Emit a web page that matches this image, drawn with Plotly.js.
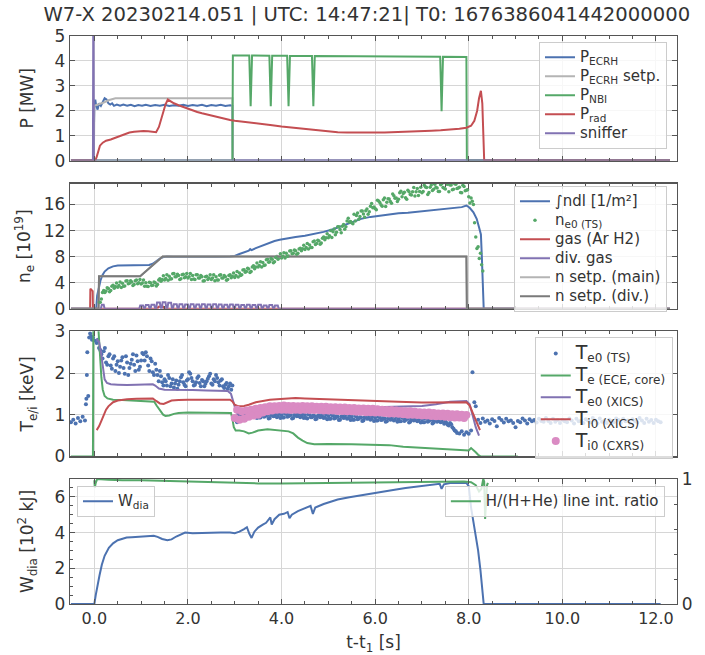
<!DOCTYPE html>
<html><head><meta charset="utf-8">
<script src="https://cdn.plot.ly/plotly-3.0.1.min.js"></script>
<style>html,body{margin:0;padding:0;background:#fff;}#plot{width:705px;height:655px;}</style>
</head><body><div id="plot"></div>
<script>
// ---------- Panel 1: powers [MW] ----------
const ecrh_t = [-0.5,-0.02,-0.01,0.0,0.02,0.04,0.07,0.1,0.14,0.18,0.22,0.26,0.3,0.34,0.38,0.42,0.48,0.55,0.62,0.7,0.78,0.86,0.94,1.02,1.1,1.2,1.3,1.4,1.5,1.6,1.7,1.8,1.9,2.0,2.1,2.2,2.3,2.4,2.5,2.6,2.7,2.8,2.9,2.95,2.96,12.3];
const ecrh   = [0,0,1.2,2.15,2.45,2.2,2.05,2.3,2.2,2.35,2.5,2.45,2.3,2.25,2.3,2.2,2.25,2.2,2.25,2.2,2.24,2.18,2.23,2.2,2.24,2.19,2.23,2.2,2.24,2.19,2.22,2.2,2.24,2.19,2.23,2.2,2.24,2.18,2.23,2.2,2.24,2.19,2.22,2.2,0,0];
const ecrh_set_t = [-0.5,-0.01,0.0,0.1,0.2,0.3,0.4,0.45,2.95,2.96,12.3];
const ecrh_set   = [0,0,2.2,2.25,2.33,2.42,2.48,2.5,2.5,0,0];
const nbi_t = [-0.5,2.95,2.96,3.31,3.34,3.37,3.74,3.77,3.80,4.12,4.15,4.18,4.65,4.68,4.71,5.5,6.5,7.39,7.42,7.45,7.95,7.96,12.3];
const nbi   = [0,0,4.22,4.22,2.18,4.22,4.21,2.18,4.21,4.21,2.18,4.2,4.2,2.18,4.2,4.19,4.18,4.17,1.98,4.17,4.16,0,0];
const prad_t = [-0.5,0.02,0.05,0.08,0.12,0.18,0.25,0.35,0.45,0.55,0.65,0.75,0.85,0.95,1.05,1.15,1.25,1.32,1.38,1.45,1.52,1.57,1.62,1.7,1.8,1.9,2.0,2.1,2.2,2.3,2.4,2.5,2.6,2.7,2.8,2.9,3.0,3.2,3.4,3.6,3.8,4.0,4.2,4.4,4.6,4.8,5.0,5.2,5.4,5.6,5.8,6.0,6.2,6.4,6.6,6.8,7.0,7.2,7.4,7.6,7.8,7.95,8.05,8.12,8.18,8.22,8.26,8.29,8.31,8.33,8.36,12.3];
const prad   = [0,0,0.15,0.4,0.6,0.72,0.8,0.85,0.92,1.02,1.08,1.13,1.16,1.18,1.19,1.18,1.16,1.14,1.35,1.8,2.25,2.45,2.38,2.3,2.22,2.15,2.08,2.0,1.95,1.9,1.85,1.8,1.75,1.71,1.67,1.63,1.6,1.56,1.53,1.47,1.42,1.37,1.33,1.28,1.24,1.2,1.17,1.14,1.13,1.12,1.12,1.13,1.13,1.14,1.14,1.16,1.18,1.2,1.22,1.24,1.28,1.32,1.4,1.6,2.0,2.5,2.8,2.3,1.0,0.02,0,0];
const sniffer_t = [-0.5,-0.03,-0.02,-0.01,12.3];
const sniffer   = [0,0,8,0,0];

// ---------- Panel 2: density [1e19] ----------
const ndl_t = [-0.5,0.04,0.06,0.09,0.13,0.17,0.22,0.3,0.4,0.5,0.7,0.9,1.1,1.17,1.25,1.32,1.4,1.46,1.55,1.7,2.0,2.3,2.6,2.9,3.0,3.1,3.2,3.3,3.33,3.36,3.45,3.55,3.65,3.75,3.85,3.96,4.1,4.3,4.5,4.73,4.9,5.1,5.3,5.5,5.7,5.9,6.1,6.3,6.5,6.7,6.9,7.1,7.3,7.5,7.7,7.85,7.95,8.02,8.1,8.17,8.22,8.26,8.28,8.3,8.32,12.3];
const ndl   = [0,0,2.0,3.2,4.3,5.1,5.7,6.2,6.5,6.65,6.7,6.7,6.7,6.72,6.9,7.3,7.7,7.9,8.0,7.98,7.95,7.95,7.97,8.0,8.1,8.4,8.7,8.9,9.15,9.0,9.3,9.6,9.9,10.2,10.4,10.6,10.8,11.0,11.2,11.5,11.8,12.2,12.7,13.2,13.8,14.1,14.3,14.5,14.65,14.75,14.9,15.05,15.15,15.25,15.4,15.6,15.85,15.5,14.8,13.8,12.5,11.4,8.0,3.0,0,0];
const ne_ts_t = [0.10,0.15,0.20,0.25,0.30,0.35,0.40,0.45,0.50,0.55,0.60,0.65,0.70,0.75,0.80,0.85,0.90,0.95,1.00,1.05,1.10,1.15,1.20,1.25,1.30,1.35,1.40,1.45,1.50,1.55,1.60,1.65,1.70,1.75,1.80,1.85,1.90,1.95,2.00,2.05,2.10,2.15,2.20,2.25,2.30,2.35,2.40,2.45,2.50,2.55,2.60,2.65,2.70,2.75,2.80,2.85,2.90,2.95,3.00,3.05,3.10,3.15,3.20,3.25,3.30,3.35,3.40,3.45,3.50,3.55,3.60,3.65,3.70,3.75,3.80,3.85,3.90,3.95,4.00,4.05,4.10,4.15,4.20,4.25,4.30,4.35,4.40,4.45,4.50,4.55,4.60,4.65,4.70,4.75,4.80,4.85,4.90,4.95,5.00,5.05,5.10,5.15,5.20,5.25,5.30,5.35,5.40,5.45,5.50,5.55,5.60,5.65,5.70,5.75,5.80,5.85,5.90,5.95,6.00,6.05,6.10,6.15,6.20,6.25,6.30,6.35,6.40,6.45,6.50,6.55,6.60,6.65,6.70,6.75,6.80,6.85,6.90,6.95,7.00,7.05,7.10,7.15,7.20,7.25,7.30,7.35,7.40,7.45,7.50,7.55,7.60,7.65,7.70,7.75,7.80,7.85,7.90,7.95,8.00,8.05,8.10,8.15,8.20,8.25,8.30];
const ne_ts   = [1.0,1.5,2.8,2.7,3.1,2.8,3.6,3.4,3.3,4.1,3.9,3.5,4.3,3.9,4.1,3.7,4.4,4.0,3.8,4.4,4.0,3.4,4.0,3.6,4.0,3.7,4.6,4.5,4.4,5.2,5.0,4.6,5.4,4.9,5.1,4.6,5.3,4.9,4.7,5.4,5.1,4.5,5.2,4.7,4.9,4.3,5.0,4.7,4.5,5.2,4.9,4.4,5.2,4.7,4.9,4.5,5.2,5.0,4.8,5.7,5.5,5.2,6.0,5.7,6.1,5.7,6.6,6.4,6.4,7.2,7.1,6.7,7.6,7.2,7.6,7.2,8.0,7.9,7.8,8.6,8.5,8.1,8.9,8.5,8.9,8.5,9.3,9.2,9.1,10.0,9.8,9.4,10.4,10.0,10.4,10.1,11.0,10.9,10.9,12.0,11.8,11.35,12.6,12.15,12.65,12.2,13.45,13.3,13.2,14.5,14.3,13.75,15.0,14.55,15.05,14.5,15.75,15.5,15.4,16.65,16.3,15.75,17.0,16.35,16.85,16.2,17.35,17.0,16.8,18.05,17.7,17.05,18.2,17.55,17.95,17.3,18.45,18.0,17.8,18.95,18.6,17.85,19.0,18.35,18.65,18.0,19.05,18.6,18.4,19.1,19.0,18.25,19.2,18.45,18.65,17.8,18.75,18.2,17.2,17.0,16.0,11.0,9.5,8.5,5.8];
const ne_ts_b_t = [0.125,0.175,0.225,0.275,0.325,0.375,0.425,0.475,0.525,0.575,0.625,0.675,0.725,0.775,0.825,0.875,0.925,0.975,1.025,1.075,1.125,1.175,1.225,1.275,1.325,1.375,1.425,1.475,1.525,1.575,1.625,1.675,1.725,1.775,1.825,1.875,1.925,1.975,2.025,2.075,2.125,2.175,2.225,2.275,2.325,2.375,2.425,2.475,2.525,2.575,2.625,2.675,2.725,2.775,2.825,2.875,2.925,2.975,3.025,3.075,3.125,3.175,3.225,3.275,3.325,3.375,3.425,3.475,3.525,3.575,3.625,3.675,3.725,3.775,3.825,3.875,3.925,3.975,4.025,4.075,4.125,4.175,4.225,4.275,4.325,4.375,4.425,4.475,4.525,4.575,4.625,4.675,4.725,4.775,4.825,4.875,4.925,4.975,5.025,5.075,5.125,5.175,5.225,5.275,5.325,5.375,5.425,5.475,5.525,5.575,5.625,5.675,5.725,5.775,5.825,5.875,5.925,5.975,6.025,6.075,6.125,6.175,6.225,6.275,6.325,6.375,6.425,6.475,6.525,6.575,6.625,6.675,6.725,6.775,6.825,6.875,6.925,6.975,7.025,7.075,7.125,7.175,7.225,7.275,7.325,7.375,7.425,7.475,7.525,7.575,7.625,7.675,7.725,7.775,7.825,7.875,7.925,7.975,8.025,8.075,8.125,8.175,8.225,8.275];
const ne_ts_b   = [1.0,2.5,2.5,3.2,2.6,3.45,3.15,3.95,3.55,3.25,3.45,4.25,3.85,4.3,3.55,4.3,3.85,4.5,3.95,3.45,3.45,4.05,3.55,4.1,3.5,4.4,4.2,5.05,4.65,4.35,4.55,5.35,4.9,5.3,4.5,5.2,4.75,5.4,4.9,4.5,4.55,5.2,4.7,5.1,4.25,4.9,4.5,5.2,4.7,4.3,4.4,5.15,4.7,5.1,4.35,5.1,4.75,5.5,5.1,4.85,5.1,5.95,5.6,6.2,5.55,6.4,6.15,7.0,6.65,6.4,6.65,7.5,7.15,7.7,7.05,7.85,7.6,8.45,8.05,7.8,8.05,8.85,8.45,9.0,8.35,9.15,8.9,9.75,9.4,9.15,9.4,10.3,9.85,10.5,9.9,10.8,10.6,11.5,11.2,10.95,12.25,11.75,12.6,11.65,12.95,12.6,13.9,13.4,13.05,13.45,14.7,14.15,15.0,14.05,15.3,14.9,16.15,15.6,15.2,16.55,15.95,16.75,15.7,16.9,16.45,17.6,16.95,16.45,17.8,17.2,17.9,16.8,17.95,17.45,18.6,17.95,17.4,18.65,18.0,18.7,17.55,18.65,18.15,19.1,18.55,18.0,19.2,18.5,19.15,17.95,19.0,18.35,19.1,18.55,17.85,18.95,18.1,18.25,16.25,16.5,13.2,9.25,7.7,6.75];
const gas_t = [-0.5,-0.09,-0.085,-0.06,-0.05,-0.035,-0.03,1.35,1.37,1.47,1.49,12.3];
const gas   = [0,0,3.05,2.9,2.75,2.7,0,0,0.3,0.3,0,0];
const divgas_t = [-0.5,0.14,0.16,0.20,0.22,
  0.96,0.98,1.04,1.06, 1.08,1.10,1.16,1.18, 1.20,1.22,1.28,1.30, 1.32,1.34,1.40,1.42, 1.44,1.46,1.52,1.54,
  1.56,1.58,1.64,1.66, 1.68,1.70,1.76,1.78, 1.80,1.82,1.88,1.90, 1.92,1.94,2.00,2.02, 2.04,2.06,2.12,2.14,
  2.16,2.18,2.24,2.26, 2.28,2.30,2.36,2.38, 2.40,2.42,2.48,2.50, 2.52,2.54,2.60,2.62, 2.64,2.66,2.72,2.74,
  2.76,2.78,2.84,2.86, 2.88,2.90,2.96,2.98, 3.00,3.02,3.08,3.10, 3.12,3.14,3.20,3.22, 3.24,3.26,3.32,3.34,
  3.36,3.38,3.44,3.46, 3.48,3.50,3.56,3.58, 3.60,3.62,3.68,3.70, 3.72,3.74,3.80,3.82, 3.84,3.86,3.92,3.94, 12.3];
const divgas   = [0,0,0.6,0.6,0,
  0,0.5,0.5,0, 0,0.55,0.55,0, 0,0.6,0.6,0, 0,0.95,0.95,0, 0,1.0,1.0,0,
  0,0.9,0.9,0, 0,0.7,0.7,0, 0,0.7,0.7,0, 0,0.65,0.65,0, 0,0.7,0.7,0,
  0,0.65,0.65,0, 0,0.7,0.7,0, 0,0.65,0.65,0, 0,0.7,0.7,0, 0,0.65,0.65,0,
  0,0.6,0.6,0, 0,0.65,0.65,0, 0,0.6,0.6,0, 0,0.55,0.55,0, 0,0.6,0.6,0,
  0,0.55,0.55,0, 0,0.6,0.6,0, 0,0.5,0.5,0, 0,0.55,0.55,0, 0,0.5,0.5,0, 0];
const nset_t = [-0.5,0.09,0.1,0.98,1.46,7.95,7.96,12.3];
const nset   = [0,0,5,5,8,8,0,0];

// ---------- Panel 3: temperatures [keV] ----------
const te_ts_t = [-0.50,-0.45,-0.40,-0.35,-0.30,-0.25,-0.20,
  -0.18,-0.17,-0.16,-0.15,-0.13,-0.11,-0.09,-0.07,-0.05,-0.03,0.00,
  0.05,0.10,0.15,0.20,0.25,0.30,0.35,0.40,0.45,0.50,0.55,0.60,0.65,0.70,0.75,0.80,0.85,0.90,0.95,1.00,1.05,1.10,1.15,1.20,1.25,1.30,
  1.35,1.40,1.45,1.50,1.55,1.60,1.65,1.70,1.75,1.80,1.85,1.90,1.95,2.00,2.05,2.10,2.15,2.20,2.25,2.30,2.35,2.40,2.45,2.50,2.55,2.60,2.65,2.70,2.75,2.80,2.85,2.90,2.95,
  3.00,3.05,3.10,3.15,3.20,3.25,3.30,3.35,3.40,3.45,3.50,3.55,3.60,3.65,3.70,3.75,3.80,3.85,3.90,3.95,4.00,4.05,4.10,4.15,4.20,4.25,4.30,4.35,4.40,4.45,4.50,4.55,4.60,4.65,4.70,4.75,4.80,4.85,4.90,4.95,5.00,5.05,5.10,5.15,5.20,5.25,5.30,5.35,5.40,5.45,5.50,5.55,5.60,5.65,5.70,5.75,5.80,5.85,5.90,5.95,6.00,6.05,6.10,6.15,6.20,6.25,6.30,6.35,6.40,6.45,6.50,6.55,6.60,6.65,6.70,6.75,6.80,6.85,6.90,6.95,7.00,7.05,7.10,7.15,7.20,7.25,7.30,7.35,7.40,7.45,7.50,7.55,7.60,7.65,7.70,7.75,
  7.80,7.85,7.90,7.95,8.00,8.05, 8.08,8.12,8.15,
  8.20,8.25,8.30,8.35,8.40,8.45,8.50,8.55,8.60,8.65,8.70,8.75,8.80,8.85,8.90,8.95,9.00,9.05,9.10,9.15,9.20,9.25,9.30,9.35,9.40,9.45,9.50,9.55,9.60,9.65,9.70,9.75,9.80,9.85,9.90,9.95,10.00,10.05,10.10,10.15,10.20,10.25,10.30,10.35,10.40,10.45,10.50,10.55,10.60,10.65,10.70,10.75,10.80,10.85,10.90,10.95,11.00,11.05,11.10,11.15,11.20,11.25,11.30,11.35,11.40,11.45,11.50,11.55,11.60,11.65,11.70,11.75,11.80,11.85,11.90,11.95,12.00,12.05,12.10];
const te_ts = [0.82,0.88,0.79,0.92,0.84,0.95,0.86,
  1.25,1.38,1.95,2.50,1.45,2.85,2.95,2.88,2.80,2.85,2.78,
  2.72,2.60,2.45,2.52,2.25,2.40,2.18,2.35,2.05,2.28,2.15,2.38,1.98,2.25,2.12,2.32,2.20,2.42,2.08,2.30,2.45,2.50,2.18,2.35,2.02,2.22,
  1.95,2.05,1.78,1.85,1.70,1.88,1.75,1.65,1.82,1.72,1.90,1.78,1.68,1.85,1.98,1.80,1.72,1.88,1.76,1.83,1.68,1.80,1.92,1.75,1.85,1.95,1.78,1.82,1.68,1.72,1.62,1.75,1.70,
  0.88,0.82,1.02,0.96,1.05,0.95,1.01,0.97,1.01,0.94,1.00,0.93,1.02,0.96,0.99,0.92,1.01,0.97,0.94,1.03,1.00,0.93,1.02,0.96,0.99,0.92,1.01,0.97,0.94,1.03,0.99,0.91,1.00,0.94,0.97,0.90,0.99,0.95,0.92,1.01,0.97,0.90,0.98,0.92,0.95,0.88,0.97,0.93,0.90,0.99,0.95,0.88,0.96,0.90,0.93,0.86,0.95,0.91,0.88,0.97,0.93,0.86,0.94,0.88,0.91,0.84,0.93,0.89,0.86,0.95,0.91,0.84,0.92,0.87,0.90,0.83,0.91,0.87,0.84,0.93,0.89,0.82,0.90,0.85,0.88,0.81,0.89,0.85,0.82,0.90,0.84,0.76,0.80,0.70,0.62,0.56,
  0.55,0.60,0.52,0.58,0.54,0.62, 2.02,1.30,1.20,
  0.88,0.80,0.91,0.83,0.86,0.79,0.89,0.85,0.72,0.92,0.87,0.81,0.90,0.84,0.86,0.80,0.70,0.85,0.82,0.91,0.86,0.79,0.89,0.84,0.87,0.81,0.90,0.85,0.83,0.92,0.85,0.80,0.90,0.83,0.87,0.80,0.88,0.84,0.82,0.91,0.86,0.79,0.90,0.84,0.85,0.80,0.89,0.86,0.81,0.92,0.86,0.79,0.91,0.83,0.86,0.80,0.88,0.85,0.82,0.91,0.87,0.80,0.90,0.84,0.86,0.79,0.89,0.85,0.82,0.92,0.86,0.80,0.90,0.83,0.87,0.80,0.88,0.84,0.82];
const te_ts_b_t = [0.075,0.125,0.175,0.225,0.275,0.325,0.375,0.425,0.475,0.525,0.575,0.625,0.675,0.725,0.775,0.825,0.875,0.925,0.975,1.025,1.075,1.125,1.175,1.225,1.275,
  1.325,1.375,1.425,1.475,1.525,1.575,1.625,1.675,1.725,1.775,1.825,1.875,1.925,1.975,2.025,2.075,2.125,2.175,2.225,2.275,2.325,2.375,2.425,2.475,2.525,2.575,2.625,2.675,2.725,2.775,2.825,2.875,2.925,
  3.025,3.075,3.125,3.175,3.225,3.275,3.325,3.375,3.425,3.475,3.525,3.575,3.625,3.675,3.725,3.775,3.825,3.875,3.925,3.975,4.025,4.075,4.125,4.175,4.225,4.275,4.325,4.375,4.425,4.475,4.525,4.575,4.625,4.675,4.725,4.775,4.825,4.875,4.925,4.975,5.025,5.075,5.125,5.175,5.225,5.275,5.325,5.375,5.425,5.475,5.525,5.575,5.625,5.675,5.725,5.775,5.825,5.875,5.925,5.975,6.025,6.075,6.125,6.175,6.225,6.275,6.325,6.375,6.425,6.475,6.525,6.575,6.625,6.675,6.725,6.775,6.825,6.875,6.925,6.975,7.025,7.075,7.125,7.175,7.225,7.275,7.325,7.375,7.425,7.475,7.525,7.575,7.625,7.675,7.725];
const te_ts_b = [2.80,2.55,2.35,2.60,2.20,2.45,2.10,2.40,2.20,2.00,2.30,2.12,2.40,1.95,2.22,2.45,2.05,2.28,2.15,2.48,2.30,2.40,2.05,2.28,1.95,
  2.08,1.80,1.92,1.70,1.80,1.95,1.68,1.85,1.75,1.62,1.80,1.95,1.72,1.82,2.02,1.88,1.70,1.78,1.92,1.68,1.80,1.74,1.86,1.98,1.72,1.80,1.88,1.70,1.85,1.64,1.76,1.68,1.60,
  0.90,1.00,0.95,1.00,0.91,0.99,0.96,1.03,0.97,0.92,0.93,1.02,0.95,1.00,0.91,0.99,0.96,1.03,0.97,0.92,0.93,1.02,0.95,1.00,0.91,0.99,0.96,1.03,0.97,0.92,0.92,1.01,0.94,0.98,0.89,0.97,0.94,1.01,0.94,0.89,0.90,0.99,0.91,0.96,0.87,0.95,0.92,0.99,0.92,0.87,0.88,0.97,0.89,0.94,0.85,0.93,0.90,0.97,0.90,0.85,0.86,0.95,0.87,0.92,0.83,0.91,0.88,0.95,0.88,0.83,0.84,0.93,0.85,0.90,0.81,0.89,0.86,0.93,0.86,0.81,0.82,0.91,0.83,0.88,0.79,0.86,0.83,0.90,0.83,0.78,0.80,0.74,0.77,0.66,0.60];
const ece_t = [-0.5,-0.03,-0.02,0.06,0.09,0.12,0.15,0.18,0.22,0.28,0.4,0.6,0.8,1.0,1.2,1.28,1.33,1.4,1.47,1.52,1.6,1.7,1.8,2.0,2.4,2.8,2.92,2.95,2.98,3.02,3.1,3.2,3.3,3.38,3.5,3.7,3.9,4.05,4.15,4.25,4.35,4.45,4.55,4.7,5.0,5.5,6.0,6.3,6.6,6.9,7.1,7.3,7.6,7.9,8.0,8.05,8.1,8.15,8.2,8.25,9.05];
const ece   = [0,0,3.5,3.4,3.0,2.4,1.9,1.6,1.45,1.39,1.36,1.35,1.34,1.33,1.32,1.31,1.22,1.1,1.0,0.97,0.98,1.02,1.04,1.05,1.05,1.04,1.04,0.9,0.7,0.62,0.62,0.6,0.55,0.57,0.62,0.65,0.63,0.61,0.6,0.55,0.45,0.38,0.32,0.29,0.3,0.29,0.28,0.27,0.23,0.21,0.19,0.18,0.16,0.15,0.14,0.2,0.16,0.1,0.04,0,0];
const te_xics_t = [0.05,0.1,0.14,0.18,0.22,0.27,0.35,0.5,0.7,0.9,1.1,1.25,1.3,1.38,1.5,1.8,2.1,2.4,2.7,2.85,2.92,2.98,3.03,3.08,3.15,3.25,3.35,3.45,3.55,3.73,4.0,4.44,5.0,5.5,6.0,6.6,7.0,7.3,7.6,7.95,8.02,8.08,8.15,8.22];
const te_xics   = [2.82,2.75,2.5,2.1,1.85,1.76,1.73,1.72,1.71,1.72,1.73,1.73,1.7,1.63,1.6,1.6,1.59,1.58,1.57,1.57,1.5,1.25,1.08,1.0,0.97,1.0,1.03,1.0,1.06,1.12,1.15,1.18,1.19,1.19,1.18,1.19,1.21,1.25,1.31,1.33,1.25,1.0,0.7,0.5];
const ti_xics_t = [0.05,0.1,0.15,0.2,0.25,0.3,0.4,0.5,0.7,0.9,1.1,1.25,1.32,1.4,1.48,1.55,1.65,1.8,2.0,2.5,2.9,2.95,3.0,3.08,3.2,3.3,3.45,3.6,3.75,3.9,4.1,4.3,4.5,4.8,5.2,5.6,6.0,6.5,7.0,7.5,7.95,8.02,8.1,8.17,8.24];
const ti_xics   = [0.63,0.72,0.85,1.0,1.12,1.2,1.3,1.34,1.37,1.38,1.39,1.39,1.33,1.27,1.26,1.3,1.34,1.35,1.36,1.36,1.36,1.32,1.24,1.2,1.21,1.24,1.3,1.33,1.36,1.37,1.38,1.4,1.39,1.38,1.37,1.35,1.33,1.31,1.29,1.29,1.3,1.22,1.0,0.8,0.63];
const ti_cxrs_t = [3.00,3.05,3.10,3.15,3.20,3.25,3.30,3.35,3.40,3.45,3.50,3.55,3.60,3.65,3.70,3.75,3.80,3.85,3.90,3.95,4.00,4.05,4.10,4.15,4.20,4.25,4.30,4.35,4.40,4.45,4.50,4.55,4.60,4.65,4.70,4.75,4.80,4.85,4.90,4.95,5.00,5.05,5.10,5.15,5.20,5.25,5.30,5.35,5.40,5.45,5.50,5.55,5.60,5.65,5.70,5.75,5.80,5.85,5.90,5.95,6.00,6.05,6.10,6.15,6.20,6.25,6.30,6.35,6.40,6.45,6.50,6.55,6.60,6.65,6.70,6.75,6.80,6.85,6.90,6.95,7.00,7.05,7.10,7.15,7.20,7.25,7.30,7.35,7.40,7.45,7.50,7.55,7.60,7.65,7.70,7.75,7.80,7.85,7.90,7.95];
const ti_cxrs   = [0.92,1.12,0.88,1.08,0.90,1.10,0.95,1.12,0.98,1.14,1.00,1.16,1.05,1.18,1.08,1.20,1.10,1.20,1.12,1.21,1.12,1.22,1.12,1.21,1.11,1.21,1.12,1.20,1.11,1.21,1.12,1.20,1.11,1.20,1.11,1.19,1.11,1.19,1.10,1.19,1.10,1.18,1.10,1.18,1.09,1.17,1.09,1.17,1.08,1.16,1.08,1.16,1.07,1.15,1.07,1.15,1.06,1.14,1.06,1.14,1.05,1.13,1.05,1.12,1.04,1.11,1.03,1.11,1.03,1.10,1.02,1.09,1.01,1.08,1.00,1.08,1.00,1.07,0.99,1.06,0.98,1.05,0.98,1.05,0.97,1.04,0.96,1.03,0.96,1.03,0.95,1.02,0.94,1.01,0.93,1.01,0.93,1.00,0.92,0.99];

// ---------- Panel 4: stored energy [1e2 kJ] and line ratio ----------
const wdia_t = [-0.5,0.0,0.03,0.07,0.11,0.16,0.22,0.31,0.4,0.5,0.6,0.69,0.8,0.9,1.0,1.1,1.2,1.27,1.35,1.45,1.56,1.65,1.75,1.85,1.94,2.1,2.3,2.5,2.7,2.9,3.0,3.1,3.2,3.26,3.31,3.36,3.42,3.5,3.6,3.67,3.76,3.79,3.85,3.95,4.05,4.13,4.17,4.22,4.35,4.5,4.62,4.67,4.72,4.9,5.05,5.2,5.45,5.7,5.95,6.2,6.45,6.65,6.9,7.1,7.25,7.38,7.42,7.47,7.6,7.8,7.95,8.0,8.05,8.1,8.15,8.2,8.25,8.3,8.32,12.1];
const wdia   = [0,0,0.5,1.1,1.6,2.2,2.7,3.15,3.4,3.57,3.66,3.72,3.74,3.76,3.77,3.79,3.8,3.82,3.76,3.64,3.57,3.62,3.78,3.92,4.0,3.97,3.96,3.99,4.0,4.01,3.97,4.05,4.2,4.3,3.95,3.7,4.05,4.28,4.45,4.55,4.85,4.45,4.75,5.0,5.05,5.15,4.8,5.0,5.2,5.35,5.5,5.05,5.4,5.6,5.72,5.85,5.98,6.1,6.2,6.3,6.42,6.5,6.58,6.68,6.7,6.73,6.45,6.7,6.78,6.78,6.78,6.6,5.4,4.6,3.8,3.0,1.9,0.4,0,0];
const hratio_t = [0.0,0.01,0.03,0.06,0.3,0.6,1.0,1.5,2.0,2.5,3.0,3.5,4.0,4.5,5.0,5.5,6.0,6.5,7.0,7.5,7.9,8.05,8.15,8.22,8.27,8.31,8.33,8.35,8.37,8.39,8.41];
const hratio   = [0.99,0.93,0.97,1.0,0.995,0.99,0.99,0.985,0.975,0.97,0.968,0.965,0.965,0.967,0.97,0.974,0.977,0.979,0.98,0.98,0.98,0.975,0.95,0.9,0.92,1.0,0.98,0.68,0.85,0.95,0.97];

// ---------- drawing ----------
const COL = {blue:'#4c72b0', green:'#55a868', red:'#c44e52', purple:'#8172b2', lgrey:'#b4b4b4', dgrey:'#7a7a7a', pink:'#da8bc3'};
function ln(x, y, name, color, xa, ya, leg) {
  return {type:'scatter', mode:'lines', x:x, y:y, name:name, line:{color:color, width:2},
          xaxis:xa, yaxis:ya, legend:leg, hoverinfo:'skip'};
}
function dots(x, y, name, color, size, xa, ya, leg, show) {
  return {type:'scatter', mode:'markers', x:x, y:y, name:name, marker:{color:color, size:size, line:{width:0}},
          xaxis:xa, yaxis:ya, legend:leg, hoverinfo:'skip', showlegend:show !== false};
}
const big = s => '<span style="font-size:15px">' + s + '</span>';
const tl = s => '<span style="font-size:19px">T</span><sub><span style="font-size:12px">' + s + '</span></sub>';

const traces = [
  ln(ecrh_t, ecrh, big('P<sub>ECRH</sub>'), COL.blue, 'x', 'y', 'legend'),
  ln(ecrh_set_t, ecrh_set, big('P<sub>ECRH</sub> setp.'), COL.lgrey, 'x', 'y', 'legend'),
  ln(nbi_t, nbi, big('P<sub>NBI</sub>'), COL.green, 'x', 'y', 'legend'),
  ln(prad_t, prad, big('P<sub>rad</sub>'), COL.red, 'x', 'y', 'legend'),
  ln(sniffer_t, sniffer, big('sniffer'), COL.purple, 'x', 'y', 'legend'),

  ln(ndl_t, ndl, big('\u222Bndl [1/m\u00B2]'), COL.blue, 'x2', 'y2', 'legend2'),
  dots(ne_ts_t, ne_ts, big('n<sub>e0 (TS)</sub>'), COL.green, 3.5, 'x2', 'y2', 'legend2'),
  ln(gas_t, gas, big('gas (Ar H2)'), COL.red, 'x2', 'y2', 'legend2'),
  ln(divgas_t, divgas, big('div. gas'), COL.purple, 'x2', 'y2', 'legend2'),
  ln(nset_t, nset, big('n setp. (main)'), COL.lgrey, 'x2', 'y2', 'legend2'),
  ln(nset_t, nset, big('n setp. (div.)'), COL.dgrey, 'x2', 'y2', 'legend2'),
  dots(ne_ts_b_t, ne_ts_b, 'ne0 TS (b)', COL.green, 3.5, 'x2', 'y2', 'legend2', false),

  dots(te_ts_t, te_ts, tl('e0 (TS)'), COL.blue, 4, 'x3', 'y3', 'legend3'),
  dots(te_ts_b_t, te_ts_b, 'Te0 TS (b)', COL.blue, 4, 'x3', 'y3', 'legend3', false),
  ln(ece_t, ece, tl('e (ECE, core)'), COL.green, 'x3', 'y3', 'legend3'),
  ln(te_xics_t, te_xics, tl('e0 (XICS)'), COL.purple, 'x3', 'y3', 'legend3'),
  ln(ti_xics_t, ti_xics, tl('i0 (XICS)'), COL.red, 'x3', 'y3', 'legend3'),
  dots(ti_cxrs_t, ti_cxrs, tl('i0 (CXRS)'), COL.pink, 8, 'x3', 'y3', 'legend3'),

  ln(wdia_t, wdia, big('W<sub>dia</sub>'), COL.blue, 'x4', 'y4', 'legend4'),
  ln(hratio_t, hratio, big('H/(H+He) line int. ratio'), COL.green, 'x4', 'y5', 'legend5')
];

const FONT = 'DejaVu Sans, sans-serif';
const TXT = '#333333';
const frame = {showline:true, linecolor:'#555555', linewidth:1.25, ticks:'inside', ticklen:5, tickwidth:1,
  tickcolor:'#555555', gridcolor:'#d6d6d6', gridwidth:1, zeroline:false, tickfont:{size:17, color:TXT}};
const xbase = Object.assign({}, frame, {range:[-0.52, 12.45], tick0:0, dtick:2, tickformat:'.1f', mirror:'ticks',
  tickfont:{size:16, color:TXT},
  minor:{tick0:0, dtick:0.5, ticks:'inside', ticklen:3, tickcolor:'#555555', showgrid:false}});
function yax(extra) { return Object.assign({}, frame, {mirror:'ticks'}, extra); }
const legBase = {bgcolor:'rgba(255,255,255,0.8)', bordercolor:'#cccccc', borderwidth:1, font:{size:12.3, color:TXT, family:FONT}};
const TF = {size:17, color:TXT};

const layout = {
  width:705, height:655, paper_bgcolor:'#ffffff', plot_bgcolor:'#ffffff',
  margin:{l:70, r:28, t:36, b:51},
  font:{family:FONT, color:TXT},
  hovermode:false,
  title:{text:'W7-X 20230214.051 | UTC: 14:47:21| T0: 1676386041442000000', font:{size:19.6, color:TXT},
         x:0.489, xref:'paper', xanchor:'center', y:0.978, yref:'container', yanchor:'middle'},
  xaxis: Object.assign({}, xbase, {anchor:'y', showticklabels:false}),
  xaxis2: Object.assign({}, xbase, {anchor:'y2', showticklabels:false, matches:'x'}),
  xaxis3: Object.assign({}, xbase, {anchor:'y3', showticklabels:false, matches:'x'}),
  xaxis4: Object.assign({}, xbase, {anchor:'y4', matches:'x', title:{text:'t-t<sub>1</sub> [s]', font:TF, standoff:17}}),
  yaxis: yax({anchor:'x', domain:[0.7806, 1], range:[0, 5], dtick:1, title:{text:'P [MW]', font:TF, standoff:16}}),
  yaxis2: yax({anchor:'x2', domain:[0.5199, 0.74], range:[0, 19.2], dtick:4, title:{text:'n<sub>e</sub> [10<sup>19</sup>]', font:TF, standoff:8}}),
  yaxis3: yax({anchor:'x3', domain:[0.2599, 0.48], range:[0, 3], dtick:1, title:{text:'T<sub>e/i</sub> [keV]', font:TF, standoff:16}}),
  yaxis4: yax({anchor:'x4', domain:[0, 0.22], range:[0, 7], dtick:2, mirror:false,
               minor:{dtick:0.5, ticks:'inside', ticklen:3, tickcolor:'#555555', showgrid:false},
               title:{text:'W<sub>dia</sub> [10<sup>2</sup> kJ]', font:TF, standoff:16}}),
  yaxis5: Object.assign({}, frame, {anchor:'x4', overlaying:'y4', side:'right', range:[0, 1], dtick:1, showgrid:false,
               minor:{dtick:0.2, ticks:'inside', ticklen:3, tickcolor:'#555555', showgrid:false}}),
  legend: Object.assign({}, legBase, {x:0.9835, xanchor:'right', y:0.990, yanchor:'top'}),
  legend2: Object.assign({}, legBase, {x:0.9835, xanchor:'right', y:0.7365, yanchor:'top'}),
  legend3: Object.assign({}, legBase, {x:0.993, xanchor:'right', y:0.4706, yanchor:'top', font:{size:14.5, color:TXT, family:FONT}}),
  legend4: Object.assign({}, legBase, {x:0.0115, xanchor:'left', y:0.2083, yanchor:'top'}),
  legend5: Object.assign({}, legBase, {x:0.98, xanchor:'right', y:0.2083, yanchor:'top'}),
  showlegend:true
};
Plotly.newPlot('plot', traces, layout, {staticPlot:true, displayModeBar:false});
</script>
</body></html>
